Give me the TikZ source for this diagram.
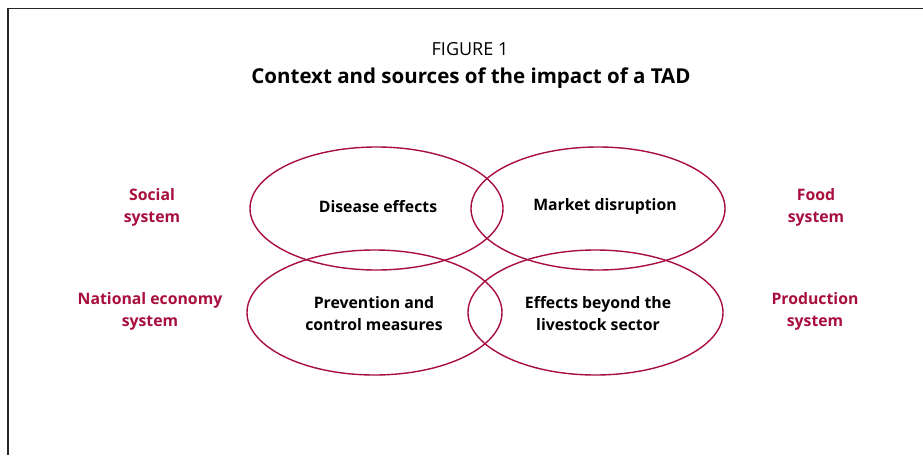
\documentclass[tikz,border=0pt]{standalone}
\usepackage{fontspec}
\setmainfont{Open Sans}
\definecolor{tadred}{RGB}{168,14,62}
\begin{document}
\begin{tikzpicture}[x=1pt,y=-1pt,
  ell/.style={draw=tadred,line width=1.4pt},
  inner/.style={font=\fontsize{15.8}{21.5}\selectfont\bfseries,align=center,text=black},
  sys/.style={font=\fontsize{15.8}{21.5}\selectfont\bfseries,align=center,text=tadred},
  frame/.style={draw=black!85,line width=1.6pt}]
\useasboundingbox (0,0) rectangle (923,455);
\coordinate (tl) at (8,8.5);
\coordinate (tr) at (923,8.5);
\coordinate (bl) at (8,455);
\draw[frame] (tr) -- (tl) -- (bl);
\node (fig) at (470,49) {\fontsize{18}{22}\selectfont FIGURE 1};
\node (title) at (471,78) {\fontsize{20.5}{24}\selectfont\bfseries Context and sources of the impact of a TAD};
\draw[ell] (376.5,208.5) ellipse [x radius=126.5,y radius=61.5];
\draw[ell] (598,208.5) ellipse [x radius=127,y radius=61.5];
\draw[ell] (374.5,312.5) ellipse [x radius=127.5,y radius=62.5];
\draw[ell] (595.5,312.5) ellipse [x radius=127.5,y radius=62.5];
\node[inner] (dis) at (378,207) {Disease effects};
\node[inner] (mkt) at (605,206.5) {Market disruption};
\node[inner] (prev) at (374,313.5) {Prevention and\\control measures};
\node[inner] (beyond) at (598,313.5) {Effects beyond the\\livestock sector};
\node[sys] (soc) at (152,207.5) {Social\\system};
\node[sys] (nat) at (150,311.5) {National economy\\system};
\node[sys] (food) at (816,207.5) {Food\\system};
\node[sys] (prod) at (815,311.5) {Production\\system};
\end{tikzpicture}
\end{document}
